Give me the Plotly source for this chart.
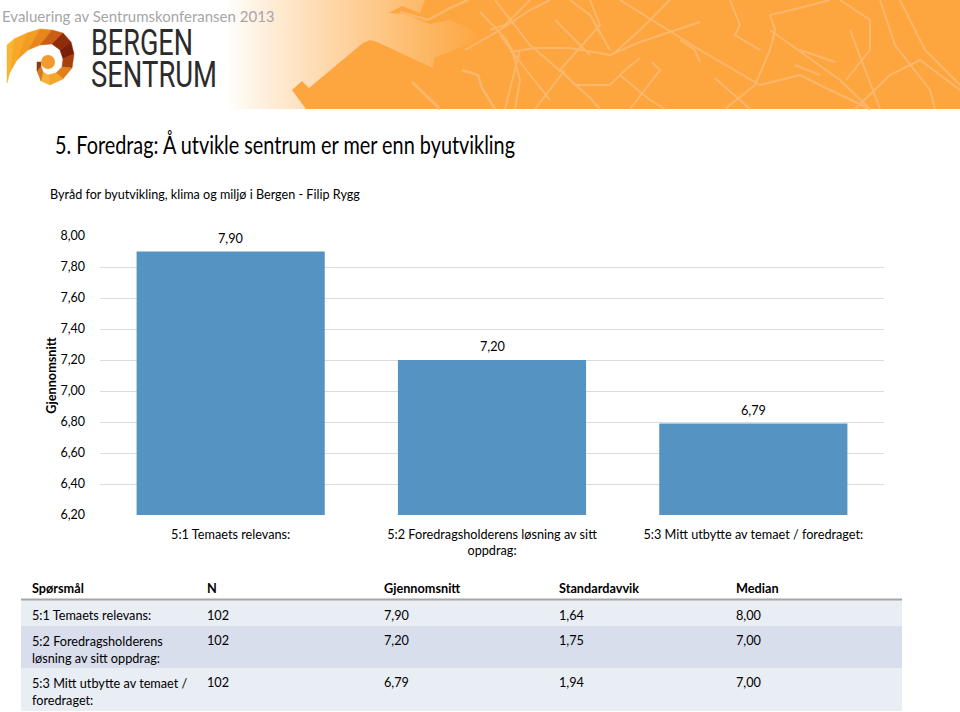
import plotly.graph_objects as go

# Data
categories = ["5:1 Temaets relevans:",
              "5:2 Foredragsholderens løsning av sitt<br>oppdrag:",
              "5:3 Mitt utbytte av temaet / foredraget:"]
means = [7.90, 7.20, 6.79]
tick_values = [6.2, 6.4, 6.6, 6.8, 7.0, 7.2, 7.4, 7.6, 7.8, 8.0]

table_header = ["Spørsmål", "N", "Gjennomsnitt", "Standardavvik", "Median"]
table_questions = ["5:1 Temaets relevans:",
                   "5:2 Foredragsholderens<br>løsning av sitt oppdrag:",
                   "5:3 Mitt utbytte av temaet /<br>foredraget:"]
table_n = ["102", "102", "102"]
table_means = ["7,90", "7,20", "6,79"]
table_sd = ["1,64", "1,75", "1,94"]
table_median = ["8,00", "7,00", "7,00"]

W, H = 960, 712
FONT = "Lato"
ORANGE = (253, 165, 63)
ROAD = "#fbb86c"


def px(x):
    return x / W


def py(y):
    return 1 - y / H


def poly(points, fill=None, line=None, width=0, close=True):
    # page pixels -> paper coordinates
    d = "M" + " L".join(f"{px(x):.5f},{py(y):.5f}" for x, y in points)
    if close:
        d += " Z"
    return dict(type="path", xref="paper", yref="paper", path=d, layer="below",
                fillcolor=fill if fill else "rgba(0,0,0,0)",
                line=dict(color=line if line else "rgba(0,0,0,0)", width=width))


def rect(x0, y0, x1, y1, fill, layer="below"):
    return dict(type="rect", xref="paper", yref="paper", x0=px(x0), x1=px(x1),
                y0=py(y1), y1=py(y0), fillcolor=fill, line=dict(width=0), layer=layer)


shapes = []

# banner gradient
x = 225
while x < 490:
    t = min(1, (x - 225) / 255) ** 0.9
    c = [round(255 + (o - 255) * t) for o in ORANGE]
    shapes.append(rect(x, 0, x + 4, 109, f"rgb({c[0]},{c[1]},{c[2]})"))
    x += 4
shapes.append(rect(488, 0, 960, 109, "rgb(253,165,63)"))

# harbour blocks
orange = "rgb(253,165,63)"
shapes.append(poly([(292, 90), (302, 81), (309, 88), (363, 43), (370, 40), (377, 42),
                    (433, 68), (434, 58), (480, 40), (500, 60), (500, 109), (306, 109)], fill=orange))
shapes.append(poly([(389, 13), (402, 6), (420, 13), (425, 0), (500, 0), (500, 55),
                    (490, 48), (470, 28), (450, 20), (430, 24), (404, 14)], fill=orange))
shapes.append(poly([(412, 82), (440, 109)], line=ROAD, width=3, close=False))
shapes.append(poly([(400, 12), (428, 20), (450, 8), (468, 0)], line=ROAD, width=2.5, close=False))
shapes.append(poly([(462, 70), (478, 75), (482, 88), (495, 109)], line=ROAD, width=2.5, close=False))

# streets, read from the banner
streets = [
    [(480, 12), (505, 38), (512, 50), (520, 80), (515, 109)],
    [(495, 0), (530, 45), (565, 75), (590, 98), (600, 109)],
    [(465, 50), (500, 30), (530, 10), (550, 0)],
    [(510, 52), (535, 48), (570, 48), (610, 55), (640, 42), (700, 22)],
    [(570, 0), (590, 15), (610, 50)],
    [(590, 0), (600, 25), (560, 70), (575, 85), (610, 85), (625, 70), (640, 58)],
    [(535, 109), (565, 70)],
    [(620, 0), (700, 50), (760, 85), (800, 75), (830, 90), (870, 109)],
    [(680, 40), (695, 50), (700, 62)],
    [(670, 0), (640, 30), (612, 55)],
    [(730, 0), (740, 25), (735, 35), (760, 50)],
    [(770, 15), (775, 30), (770, 50), (755, 85), (725, 109)],
    [(770, 15), (800, 8), (830, 0)],
    [(770, 30), (840, 80), (870, 109)],
    [(800, 50), (835, 62)],
    [(795, 65), (820, 75)],
    [(846, 80), (870, 50), (870, 20), (840, 0)],
    [(855, 109), (890, 75), (920, 60), (960, 90)],
    [(850, 30), (880, 109)],
    [(880, 0), (895, 45), (930, 90), (935, 109)],
    [(900, 0), (925, 50), (960, 85)],
    [(620, 75), (650, 100), (665, 109)],
    [(715, 78), (750, 109)],
    [(630, 109), (660, 70), (652, 62)],
    [(500, 35), (520, 62), (550, 100)],
    [(555, 20), (590, 55)],
    [(530, 0), (505, 25), (490, 30)],
    [(520, 50), (505, 109)],
]
for s in streets:
    shapes.append(poly(s, line=ROAD, width=2, close=False))

# logo swirl
outer = [(7, 45), (14, 39), (27, 33), (40, 29), (52, 30), (63, 33), (71, 42), (74, 54),
         (72, 68), (63, 79), (50, 85), (41, 81), (37, 71), (37, 62)]
inner = [(7, 83), (10, 72), (17, 60), (28, 50), (40, 45), (52, 44), (60, 50), (63, 59),
         (62, 67), (56, 73), (48, 75), (43, 72), (41, 66), (41, 62)]
swirl_colors = ["#fab534", "#f8a827", "#f39c22", "#e8861c", "#c95f14", "#8f2d0a", "#7c1f08",
                "#a8400e", "#e0801a", "#f5a52a", "#f7b13a", "#d9791a", "#8b3a0e"]
for i, c in enumerate(swirl_colors):
    shapes.append(poly([outer[i], outer[i + 1], inner[i + 1], inner[i]], fill=c, line=c, width=0.5))
shapes.append(dict(type="circle", xref="paper", yref="paper", x0=px(41), x1=px(55),
                   y0=py(69), y1=py(55), fillcolor="#f29a2e", line=dict(width=0), layer="below"))


def label(x, y, text, size, color="#000000", font=FONT, anchor="left", **kw):
    return dict(xref="paper", yref="paper", x=px(x), y=py(y), text=text, showarrow=False,
                xanchor=anchor, yanchor="middle", align="left",
                font=dict(family=font, size=size, color=color), **kw)


annotations = [
    label(0, 16, "Evaluering av Sentrumskonferansen 2013", 15, color="#a6a6a6"),
    label(89, 43, "BERGEN", 36, color="#2b2b2b", font="Roboto"),
    label(89, 75, "SENTRUM", 36, color="#2b2b2b", font="Roboto"),
    label(53, 144, "5. Foredrag: Å utvikle sentrum er mer enn byutvikling", 25),
    label(48, 194, "Byråd for byutvikling, klima og miljø i Bergen - Filip Rygg", 12.6),
]
for cat, v in zip(categories, means):
    annotations.append(dict(x=cat, y=v, xref="x", yref="y", text=f"{v:.2f}".replace(".", ","),
                            showarrow=False, yshift=14, font=dict(family=FONT, size=12.7, color="#000000")))

# table: column starts and row bands
col_x = [30, 205, 382, 557, 734]
row_top = [600, 626, 668]
row_bottom = [626, 668, 711]
row_fill = ["#e9edf4", "#d9deec", "#e9edf4"]
columns = [table_questions, table_n, table_means, table_sd, table_median]

for cx, h in zip(col_x, table_header):
    annotations.append(label(cx, 588, f"<b>{h}</b>", 12.7))
for r in range(3):
    shapes.append(rect(21, row_top[r], 902, row_bottom[r], row_fill[r]))
    for cx, col in zip(col_x, columns):
        text = col[r]
        n = text.count("<br>") + 1
        # numbers sit on the first line of a two-line question
        lines = table_questions[r].count("<br>") + 1
        if n == 1 and lines == 2:
            annotations.append(label(cx, row_top[r] + 14, text, 12.7))
        else:
            annotations.append(label(cx, row_top[r] + 15 + 8 * (n - 1), text, 12.7))
shapes.append(dict(type="line", xref="paper", yref="paper", x0=px(21), x1=px(902),
                   y0=py(599.5), y1=py(599.5), line=dict(color="#a6a6a6", width=2), layer="below"))

fig = go.Figure()
fig.add_trace(go.Bar(x=categories, y=means, marker=dict(color="#5593c2", line=dict(width=0)),
                     width=0.72, hoverinfo="skip"))

fig.update_layout(
    width=W, height=H, margin=dict(l=0, r=0, t=0, b=0, pad=0), autosize=False,
    paper_bgcolor="#ffffff", plot_bgcolor="#ffffff", showlegend=False,
    separators=",.", shapes=shapes, annotations=annotations,
    font=dict(family=FONT, size=13, color="#000000"),
    xaxis=dict(domain=[px(100), px(884)], showgrid=False, showline=False, ticks="", automargin=False,
               tickangle=0, ticklabelstandoff=10, tickfont=dict(family=FONT, size=12.7)),
    yaxis=dict(domain=[py(515), py(236)], range=[6.2, 8.0], tickvals=tick_values, tickformat=".2f",
               showgrid=True, gridcolor="#dcdcdc", gridwidth=1.3, zeroline=False, showline=False,
               ticks="", automargin=False, ticklabelstandoff=14, tickfont=dict(family=FONT, size=12.5),
               title=dict(text="<b>Gjennomsnitt</b>", font=dict(family=FONT, size=12.7), standoff=0)),
)

# squeeze the narrow header texts to their measured widths
squeeze = """
document.body.style.margin='0';
var widths={'BERGEN':102,'SENTRUM':126,'5. Foredrag: Å utvikle sentrum er mer enn byutvikling':460};
document.querySelectorAll('text').forEach(function(t){
  var w=widths[t.textContent];
  if(w){t.setAttribute('textLength',w);t.setAttribute('lengthAdjust','spacingAndGlyphs');}
});
"""
fig.write_html("out.html", post_script=squeeze, config={"displayModeBar": False})
